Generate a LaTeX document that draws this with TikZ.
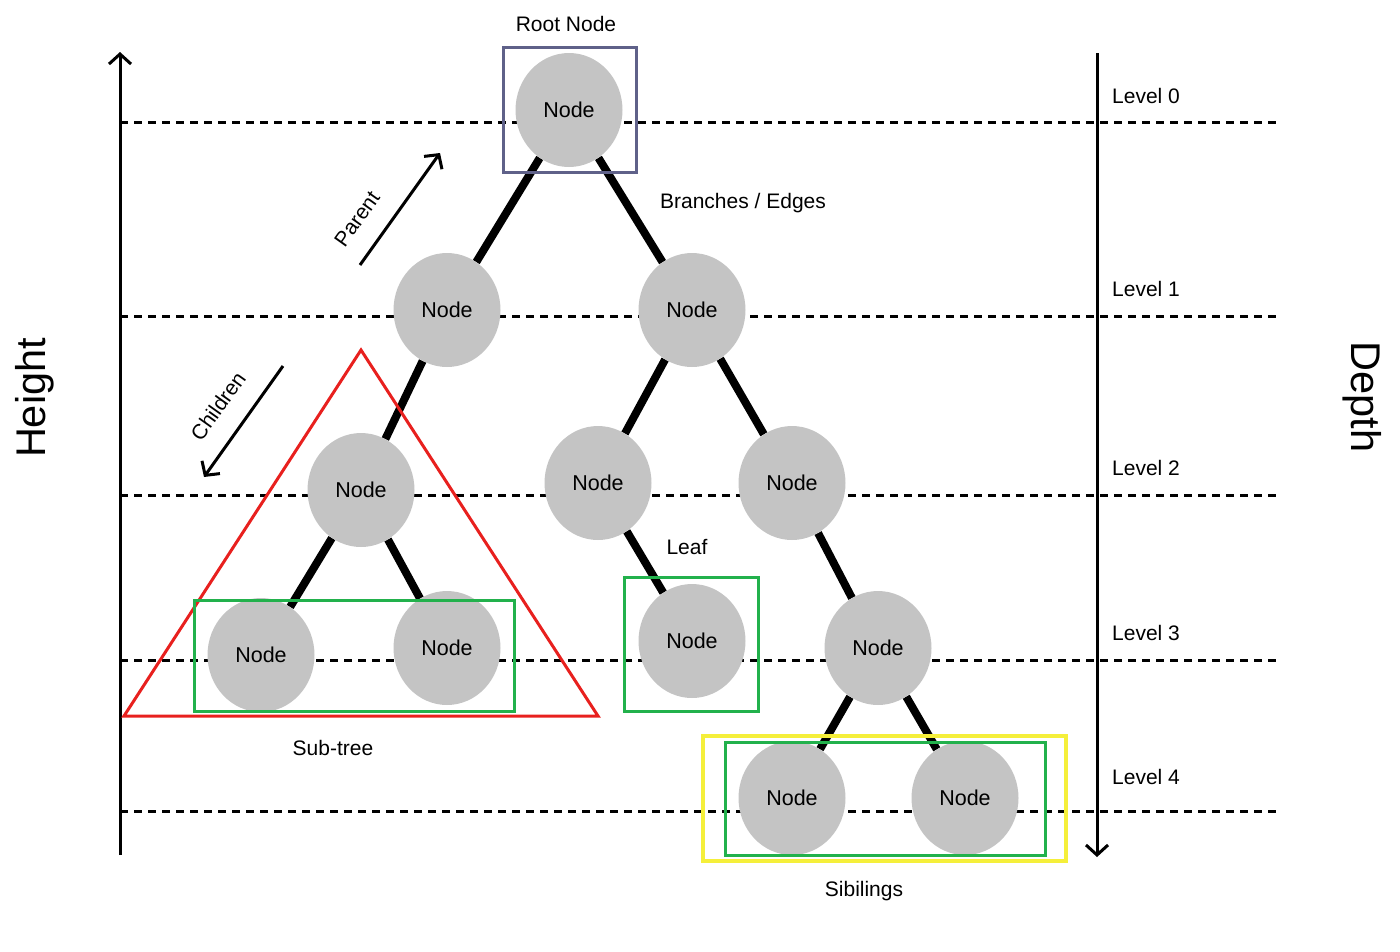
\documentclass[tikz,border=0pt]{standalone}
\usepackage{fontspec}
\setmainfont{Liberation Sans}
\usetikzlibrary{shapes.geometric,arrows.meta,backgrounds}
\definecolor{nodegray}{HTML}{C4C4C4}
\definecolor{rootbox}{HTML}{5F6189}
\definecolor{grn}{HTML}{22B14C}
\definecolor{yel}{HTML}{F5EF3A}
\definecolor{redt}{HTML}{E8201E}
\begin{document}
\begin{tikzpicture}[x=1pt,y=-1pt,
  tnode/.style={ellipse, fill=nodegray, minimum width=107pt, minimum height=114pt, inner sep=0pt, font=\fontsize{21.5}{25}\selectfont},
  edge/.style={line width=8pt},
  lvl/.style={line width=3pt, dash pattern=on 8pt off 6pt},
  lbl/.style={font=\fontsize{21}{25}\selectfont, inner sep=0pt},
  big/.style={font=\fontsize{41.5}{48}\selectfont, inner sep=0pt},
  axis/.style={line width=3pt, -{Straight Barb[length=10pt,width=22pt,line width=3pt]}},
  thinarrow/.style={line width=3pt, -{Straight Barb[length=10pt,width=22pt,line width=3pt]}},
  boxline/.style={line width=3pt}]
\useasboundingbox (0,0) rectangle (1400,951);

% nodes
\node[tnode] (r) at (569,110) {Node};
\node[tnode] (a) at (447,310) {Node};
\node[tnode] (b) at (692,310) {Node};
\node[tnode] (aa) at (361,490) {Node};
\node[tnode] (ba) at (598,483) {Node};
\node[tnode] (bb) at (792,483) {Node};
\node[tnode] (aaa) at (261,655) {Node};
\node[tnode] (aab) at (447,648) {Node};
\node[tnode] (baa) at (692,641) {Node};
\node[tnode] (bba) at (878,648) {Node};
\node[tnode] (bbaa) at (792,798) {Node};
\node[tnode] (bbab) at (965,798) {Node};

% level line endpoints
\coordinate (l0s) at (120,122); \coordinate (l0e) at (1277,122);
\coordinate (l1s) at (120,316); \coordinate (l1e) at (1277,316);
\coordinate (l2s) at (120,495); \coordinate (l2e) at (1277,495);
\coordinate (l3s) at (120,660); \coordinate (l3e) at (1277,660);
\coordinate (l4s) at (120,811); \coordinate (l4e) at (1277,811);

\begin{scope}[on background layer]
\draw[lvl] (l0s) -- (l0e);
\draw[lvl] (l1s) -- (l1e);
\draw[lvl] (l2s) -- (l2e);
\draw[lvl] (l3s) -- (l3e);
\draw[lvl] (l4s) -- (l4e);
\draw[edge] (r) -- (a);
\draw[edge] (r) -- (b);
\draw[edge] (a) -- (aa);
\draw[edge] (b) -- (ba);
\draw[edge] (b) -- (bb);
\draw[edge] (aa) -- (aaa);
\draw[edge] (aa) -- (aab);
\draw[edge] (ba) -- (baa);
\draw[edge] (bb) -- (bba);
\draw[edge] (bba) -- (bbaa);
\draw[edge] (bba) -- (bbab);
\end{scope}

% axes
\coordinate (hb) at (120,855); \coordinate (ht) at (120,52);
\coordinate (dt) at (1097,53); \coordinate (db) at (1097,857);
\draw[axis] (hb) -- (ht);
\draw[axis] (dt) -- (db);

% boxes and triangle
\draw[boxline, rootbox] (503,47) rectangle (636,172);
\draw[boxline, redt] (361,350) -- (598,716) -- (124,716) -- cycle;
\draw[boxline, grn] (194,600) rectangle (514,711);
\draw[boxline, grn] (624,577) rectangle (758,711);
\draw[line width=4pt, yel] (703,736) rectangle (1066,861);
\draw[boxline, grn] (725,742) rectangle (1045,855);

% parent / children arrows
\coordinate (ps) at (360,265); \coordinate (pe) at (440,153);
\coordinate (cs) at (283,366); \coordinate (ce) at (204,477);
\draw[thinarrow] (ps) -- (pe);
\draw[thinarrow] (cs) -- (ce);
\node[lbl, rotate=54.5] (parent) at (357,219) {Parent};
\node[lbl, rotate=54.5] (children) at (218,406) {Children};

% labels
\node[lbl] (rootlbl) at (566,24) {Root Node};
\node[lbl] (branch) at (743,203) {Branches / Edges};
\node[lbl] (leaf) at (687,547) {Leaf};
\node[lbl] (subtree) at (333,748) {Sub-tree};
\node[lbl] (sib) at (864,891) {Sibilings};
\node[lbl, anchor=west] (lv0) at (1112,96) {Level 0};
\node[lbl, anchor=west] (lv1) at (1112,289) {Level 1};
\node[lbl, anchor=west] (lv2) at (1112,468) {Level 2};
\node[lbl, anchor=west] (lv3) at (1112,633) {Level 3};
\node[lbl, anchor=west] (lv4) at (1112,777) {Level 4};
\node[big, rotate=90] (height) at (35,398) {Height};
\node[big, rotate=-90] (depth) at (1362,397) {Depth};
\end{tikzpicture}
\end{document}
